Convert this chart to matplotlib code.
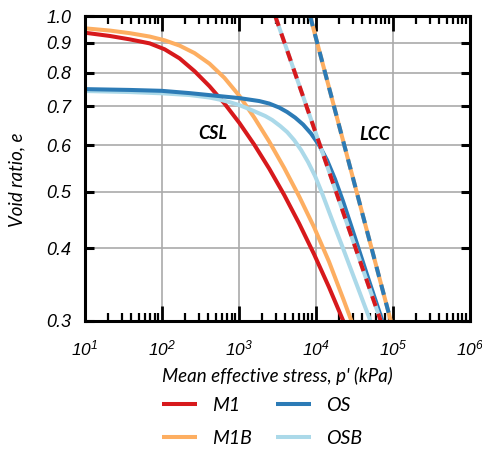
import numpy as np
import matplotlib
matplotlib.use('Agg')
import matplotlib.pyplot as plt
from matplotlib.ticker import FixedLocator, NullLocator, LogLocator, FuncFormatter

plt.rcParams['mathtext.fontset'] = 'custom'
plt.rcParams['mathtext.rm'] = 'Liberation Sans:italic'
plt.rcParams['mathtext.it'] = 'Liberation Sans:italic'

# CSL curves (p' in kPa, void ratio e)
m1_p = [10, 21.06, 38.2, 69.3, 108.4, 169.4, 264.9, 414, 647.4, 1012, 1582, 2474,
        3867, 6045, 9450, 14770, 23090]
m1_e = [0.9362, 0.9242, 0.9119, 0.8976, 0.8768, 0.8460, 0.8043, 0.7580, 0.7081,
        0.6557, 0.6017, 0.5473, 0.4935, 0.4409, 0.3905, 0.3428, 0.2982]

m1b_p = [10, 21.06, 38.2, 69.3, 108.4, 169.4, 264.9, 414, 647.4, 1012, 1582, 2474,
         3867, 6045, 9450, 14770, 23090, 29310]
m1b_e = [0.9526, 0.9442, 0.9345, 0.9221, 0.9085, 0.8898, 0.8638, 0.8286, 0.7834,
         0.7297, 0.6696, 0.6090, 0.5490, 0.4907, 0.4345, 0.3792, 0.3250, 0.2985]

os_p = [10, 38.2, 99, 228, 414, 647, 1012, 1363, 1836, 2474, 3332, 4228, 5366, 6810,
        8642, 10970, 13920, 17670, 22420, 28450, 36100, 45810, 58140, 73800]
os_e = [0.7493, 0.7469, 0.7443, 0.7376, 0.7318, 0.7275, 0.7232, 0.7190, 0.7148, 0.7078,
        0.6967, 0.6845, 0.6696, 0.6515, 0.6287, 0.6007, 0.5662, 0.5253, 0.4817, 0.4381,
        0.3977, 0.3609, 0.3282, 0.2986]

osb_p = [10, 38.2, 99, 228, 414, 558, 751, 1012, 1363, 1730, 2195, 2705, 3432, 4228,
         5210, 6416, 7904, 9736, 11990, 14770, 18200, 22420, 27620, 34020, 41920, 51630]
osb_e = [0.7437, 0.7407, 0.7370, 0.7320, 0.7248, 0.7190, 0.7119, 0.7035, 0.6925, 0.6831,
         0.6738, 0.6633, 0.6477, 0.6324, 0.6127, 0.5891, 0.5618, 0.5316, 0.4971, 0.4620,
         0.4296, 0.4000, 0.3717, 0.3456, 0.3212, 0.2986]

# LCC lines (straight in log-log)
lcc_left_p = [2960, 69500]
lcc_left_e = [1.0, 0.3]
lcc_right_p = [8390, 93800]
lcc_right_e = [1.0, 0.3]

c_m1 = '#d7191c'
c_m1b = '#fdae61'
c_os = '#2c7bb6'
c_osb = '#abd9e9'

yticks = [0.3, 0.4, 0.5, 0.6, 0.7, 0.8, 0.9, 1.0]

fig = plt.figure(figsize=(4.82, 4.5), dpi=100)
ax = fig.add_axes([0.1763, 0.2867, 0.7987, 0.6777])

lw = 2.9
ax.plot(m1_p, m1_e, color=c_m1, lw=lw, label='M1', solid_capstyle='butt')
ax.plot(m1b_p, m1b_e, color=c_m1b, lw=lw, label='M1B', solid_capstyle='butt')
ax.plot(osb_p, osb_e, color=c_osb, lw=lw, label='OSB', solid_capstyle='butt')
ax.plot(os_p, os_e, color=c_os, lw=lw, label='OS', solid_capstyle='butt')

# LCC: base line solid, other series dashed on top
ax.plot(lcc_left_p, lcc_left_e, color=c_osb, lw=lw, solid_capstyle='butt')
ax.plot(lcc_left_p, lcc_left_e, color=c_m1, lw=lw, dashes=(2.6, 2.0), dash_capstyle='butt')
ax.plot(lcc_right_p, lcc_right_e, color=c_m1b, lw=lw, solid_capstyle='butt')
ax.plot(lcc_right_p, lcc_right_e, color=c_os, lw=lw, dashes=(2.6, 2.0), dash_capstyle='butt')

ax.set_xscale('log')
ax.set_yscale('log')
ax.set_xlim(10, 1e6)
ax.set_ylim(0.3, 1.0)

ax.yaxis.set_major_locator(FixedLocator(yticks))
ax.yaxis.set_minor_locator(NullLocator())
ax.yaxis.set_major_formatter(FuncFormatter(lambda v, pos: f'{v:.1f}'))
ax.xaxis.set_major_locator(LogLocator(base=10, numticks=10))
ax.xaxis.set_minor_locator(LogLocator(base=10, subs=np.arange(2, 10), numticks=20))
ax.xaxis.set_major_formatter(FuncFormatter(lambda v, pos: r'$10^{%d}$' % round(np.log10(v))))

ax.grid(True, which='major', color='#aaaaaa', lw=1.2)
ax.set_axisbelow(True)

for s in ax.spines.values():
    s.set_linewidth(2.2)

ax.tick_params(axis='x', which='major', direction='in', top=True, bottom=True,
               length=10.5, width=2.0, labelsize=12.5, pad=13)
ax.tick_params(axis='x', which='minor', direction='in', top=True, bottom=True,
               length=5.5, width=1.6)
ax.tick_params(axis='y', which='major', direction='in', left=True, right=True,
               length=6.5, width=2.2, labelsize=13, pad=10)
for lab in ax.get_yticklabels():
    lab.set_fontstyle('italic')
    lab.set_family('Liberation Sans')

ax.set_xlabel("Mean effective stress, p' (kPa)", fontsize=13.5, fontstyle='italic',
              family='Lato', labelpad=6)
ax.set_ylabel('Void ratio, e', fontsize=13.5, fontstyle='italic', family='Lato')
ax.yaxis.set_label_coords(-0.155, 0.462)

ax.text(453, 0.630, 'CSL', fontsize=13, fontweight='bold', fontstyle='italic',
        family='Lato', ha='center', va='center')
ax.text(59000, 0.627, 'LCC', fontsize=13, fontweight='bold', fontstyle='italic',
        family='Lato', ha='center', va='center')

h = {l.get_label(): l for l in ax.get_lines()}
handles = [h['M1'], h['M1B'], h['OS'], h['OSB']]
fig.legend(handles, ['M1', 'M1B', 'OS', 'OSB'], ncol=2, frameon=False,
           loc='center', bbox_to_anchor=(262 / 482, 1 - 422 / 450),
           prop={'family': 'Lato', 'style': 'italic', 'size': 14},
           handlelength=1.8, handletextpad=0.8, columnspacing=1.2,
           labelspacing=0.8, borderpad=0)

fig.savefig('out.png', dpi=100)
